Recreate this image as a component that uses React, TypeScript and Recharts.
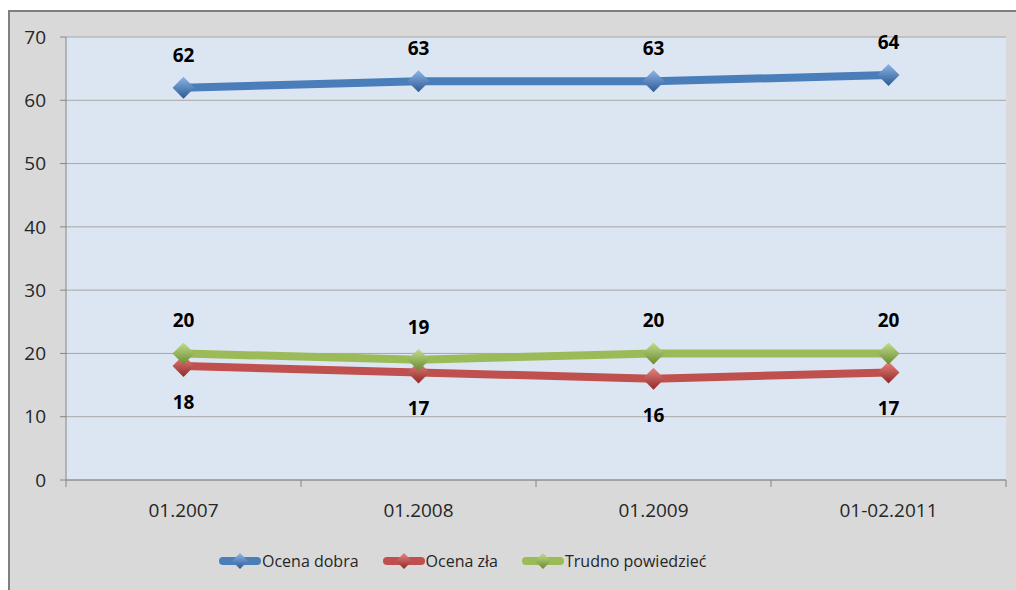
import React from "react";
import {
    LineChart,
    Line,
    XAxis,
    YAxis,
    CartesianGrid,
    LabelList,
} from "recharts";

const categories = ["01.2007", "01.2008", "01.2009", "01-02.2011"];
const ocenaDobra = [62, 63, 63, 64];
const ocenaZla = [18, 17, 16, 17];
const trudnoPowiedziec = [20, 19, 20, 20];
const yTicks = [0, 10, 20, 30, 40, 50, 60, 70];

const data = categories.map((cat, i) => ({
    cat,
    dobra: ocenaDobra[i],
    zla: ocenaZla[i],
    trudno: trudnoPowiedziec[i],
}));

const FONT = "'Open Sans', 'Noto Sans', sans-serif";

const SERIES = [
    { key: "dobra", name: "Ocena dobra", color: "#4a7ebb", light: "#8db4e6", dark: "#2c5a94", labelDy: -33 },
    { key: "zla", name: "Ocena zła", color: "#c0504d", light: "#ea8380", dark: "#8f2a28", labelDy: 36 },
    { key: "trudno", name: "Trudno powiedzieć", color: "#9bbb59", light: "#c3de8e", dark: "#6a8a2f", labelDy: -33 },
];

// diamond marker with a simple top-to-bottom shading
function Diamond({ cx, cy, id, size = 11 }: any) {
    if (cx == null || cy == null) return null;
    const pts = `${cx},${cy - size} ${cx + size},${cy} ${cx},${cy + size} ${cx - size},${cy}`;
    return <polygon points={pts} fill={`url(#grad-${id})`} stroke="none" />;
}

function XTick({ x, y, payload, index }: any) {
    const half = payload?.offset ?? 117.5;
    return (
        <g>
            <line x1={x - half} x2={x - half} y1={y} y2={y + 7} stroke="#868686" />
            {index === categories.length - 1 && (
                <line x1={x + half} x2={x + half} y1={y} y2={y + 7} stroke="#868686" />
            )}
            <text
                x={x}
                y={y + 30}
                textAnchor="middle"
                dominantBaseline="central"
                fontFamily={FONT}
                fontSize={19}
                fill="#262626"
            >
                {payload.value}
            </text>
        </g>
    );
}

function LegendMarker({ s }: any) {
    return (
        <svg width={42} height={22} style={{ display: "block" }}>
            <defs>
                <linearGradient id={`lg-${s.key}`} x1="0" y1="0" x2="0" y2="1">
                    <stop offset="0%" stopColor={s.light} />
                    <stop offset="100%" stopColor={s.dark} />
                </linearGradient>
            </defs>
            <line x1={4} x2={38} y1={11} y2={11} stroke={s.color} strokeWidth={8} strokeLinecap="round" />
            <polygon points="21,3 29,11 21,19 13,11" fill={`url(#lg-${s.key})`} />
        </svg>
    );
}

export default function App() {
    return (
        <div
            style={{
                position: "absolute",
                left: 8,
                top: 10,
                width: 1006,
                height: 578,
                background: "#d9d9d9",
                borderTop: "2px solid #7f7f7f",
                borderLeft: "2px solid #7f7f7f",
                overflow: "hidden",
                fontFamily: FONT,
            }}
        >
            <LineChart
                width={1006}
                height={578}
                data={data}
                margin={{ top: 25, right: 10, left: 0, bottom: 0 }}
            >
                <defs>
                    {SERIES.map((s) => (
                        <linearGradient key={s.key} id={`grad-${s.key}`} x1="0" y1="0" x2="0" y2="1">
                            <stop offset="0%" stopColor={s.light} />
                            <stop offset="100%" stopColor={s.dark} />
                        </linearGradient>
                    ))}
                </defs>
                <CartesianGrid vertical={false} stroke="#a6a6a6" fill="#dce6f2" />
                <XAxis
                    dataKey="cat"
                    scale="band"
                    height={110}
                    stroke="#868686"
                    tickLine={false}
                    tickSize={0}
                    tickMargin={0}
                    tick={<XTick />}
                    interval={0}
                />
                <YAxis
                    domain={[0, 70]}
                    ticks={yTicks}
                    width={56}
                    stroke="#868686"
                    tickSize={6}
                    tickMargin={14}
                    tick={{ fontFamily: FONT, fontSize: 19, fill: "#262626" }}
                />
                {SERIES.map((s) => (
                    <Line
                        key={s.key}
                        type="linear"
                        dataKey={s.key}
                        name={s.name}
                        stroke={s.color}
                        strokeWidth={8}
                        isAnimationActive={false}
                        dot={(p: any) => <Diamond key={`${s.key}-${p.index}`} cx={p.cx} cy={p.cy} id={s.key} />}
                        activeDot={false}
                    >
                        <LabelList
                            dataKey={s.key}
                            content={(p: any) => (
                                <text
                                    x={p.x}
                                    y={p.y + s.labelDy}
                                    textAnchor="middle"
                                    dominantBaseline="central"
                                    fontFamily={FONT}
                                    fontWeight="bold"
                                    fontSize={19}
                                    fill="#000"
                                >
                                    {p.value}
                                </text>
                            )}
                        />
                    </Line>
                ))}
            </LineChart>
            <div
                style={{
                    position: "absolute",
                    left: 209,
                    top: 538,
                    display: "flex",
                    alignItems: "center",
                    gap: 24,
                    fontSize: 16,
                    color: "#262626",
                }}
            >
                {SERIES.map((s) => (
                    <div key={s.key} style={{ display: "flex", alignItems: "center" }}>
                        <LegendMarker s={s} />
                        <span style={{ marginLeft: 1 }}>{s.name}</span>
                    </div>
                ))}
            </div>
        </div>
    );
}
